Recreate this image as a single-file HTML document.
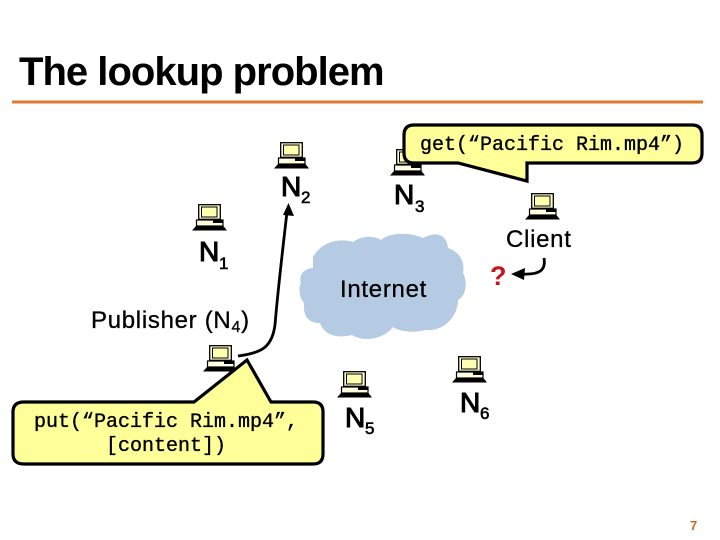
<!DOCTYPE html>
<html><head><meta charset="utf-8">
<style>
html,body{margin:0;padding:0;background:#fff;width:720px;height:540px;overflow:hidden}
svg{display:block}
text{font-family:"Liberation Sans",sans-serif;fill:#000}
.m{font-family:"Liberation Mono",monospace;font-size:20px;stroke:#000;stroke-width:.35}
.n{font-size:28px;stroke:#000;stroke-width:1.1}
.s{font-size:17px;stroke:#000;stroke-width:.6}
.l{font-size:24px;letter-spacing:.7px;stroke:#000;stroke-width:.3}
</style></head><body>
<svg width="720" height="540" viewBox="0 0 720 540" xmlns="http://www.w3.org/2000/svg">
<defs>
<symbol id="pc" overflow="visible" width="40" height="30">
  <rect x="0.7" y="0.7" width="21.6" height="14.6" fill="#ffffd8" stroke="#000" stroke-width="1.3"/>
  <rect x="3.5" y="3" width="15.5" height="10" fill="#ffffb0" stroke="#000" stroke-width="1"/>
  <rect x="-1.5" y="16" width="26.5" height="6" fill="#ffffe0" stroke="#000" stroke-width="1.2"/>
  <rect x="15" y="16.5" width="10" height="2.5" fill="#000"/>
  <path d="M-1.5 21.500 H25 L29 26.500 H-6 Z" fill="#000"/>
</symbol>
</defs>

<text x="19" y="85" style="font-size:40px;font-weight:700;letter-spacing:-.98px">The lookup problem</text>
<rect x="12" y="100.500" width="691" height="3" fill="#de7a30"/>

<path d="M313 257 C322 241 340 238 353 242 C362 236 372 235 381 240 C390 232 410 232 423 238 C438 230 447 236 448 248 C460 252 465 262 463 273 C468 282 466 296 458 300 C458 316 444 332 425 330 C415 333 400 332 393 327 C385 338 365 343 352 335 C340 338 325 337 320 323 C308 323 303 316 304 303 C298 296 299 286 301 283 C298 275 305 268 313 268 Z" fill="#b5cbe3"/>
<text x="340" y="297" class="l">Internet</text>

<use href="#pc" x="280" y="142"/>
<use href="#pc" x="396" y="149"/>
<use href="#pc" x="531" y="193"/>
<use href="#pc" x="198" y="204"/>
<use href="#pc" x="209" y="345"/>
<use href="#pc" x="343" y="371"/>
<use href="#pc" x="458" y="356"/>

<text x="281" y="196" class="n">N</text><text x="301" y="203" class="s">2</text>
<text x="394" y="204" class="n">N</text><text x="415" y="212" class="s">3</text>
<text x="199" y="261" class="n">N</text><text x="219" y="269" class="s">1</text>
<text x="345" y="427" class="n">N</text><text x="365" y="434" class="s">5</text>
<text x="460" y="412" class="n">N</text><text x="480" y="419" class="s">6</text>

<text x="506" y="247" class="l">Client</text>
<text x="91" y="328" class="l">Publisher (N<tspan font-size="16" dy="4">4</tspan><tspan dy="-4">)</tspan></text>
<text x="490" y="285" style="font-size:27px;font-weight:700;fill:#c8141e">?</text>

<path d="M544 258 C546 270 540 275 522 274" fill="none" stroke="#000" stroke-width="2.800"/>
<path d="M511 274 L525 268 L524 280 Z" fill="#000"/>

<path d="M238 356 C262 353 272 347 275 325 C277 300 282 255 287 212" fill="none" stroke="#000" stroke-width="2.800"/>
<path d="M288.500 203 L294 216 L283 215 Z" fill="#000"/>

<path d="M414 125 H692 Q702 125 702 135 V153 Q702 163 692 163 H527 V181 L458 163 H414 Q404 163 404 153 V135 Q404 125 414 125 Z" fill="#ffff99" stroke="#000" stroke-width="3.200"/>
<text x="420" y="150" class="m">get(“Pacific Rim.mp4”)</text>

<path d="M24 402 H194 L247 360 L271 402 H313 Q323 402 323 412 V454 Q323 464 313 464 H24 Q13 464 13 454 V412 Q13 402 24 402 Z" fill="#ffff99" stroke="#000" stroke-width="3.200"/>
<text x="166" y="427" text-anchor="middle" class="m">put(“Pacific Rim.mp4”,</text>
<text x="166" y="451" text-anchor="middle" class="m">[content])</text>

<text x="690" y="530" style="font-size:13px;font-weight:700;fill:#d0641e">7</text>
</svg>
</body></html>
